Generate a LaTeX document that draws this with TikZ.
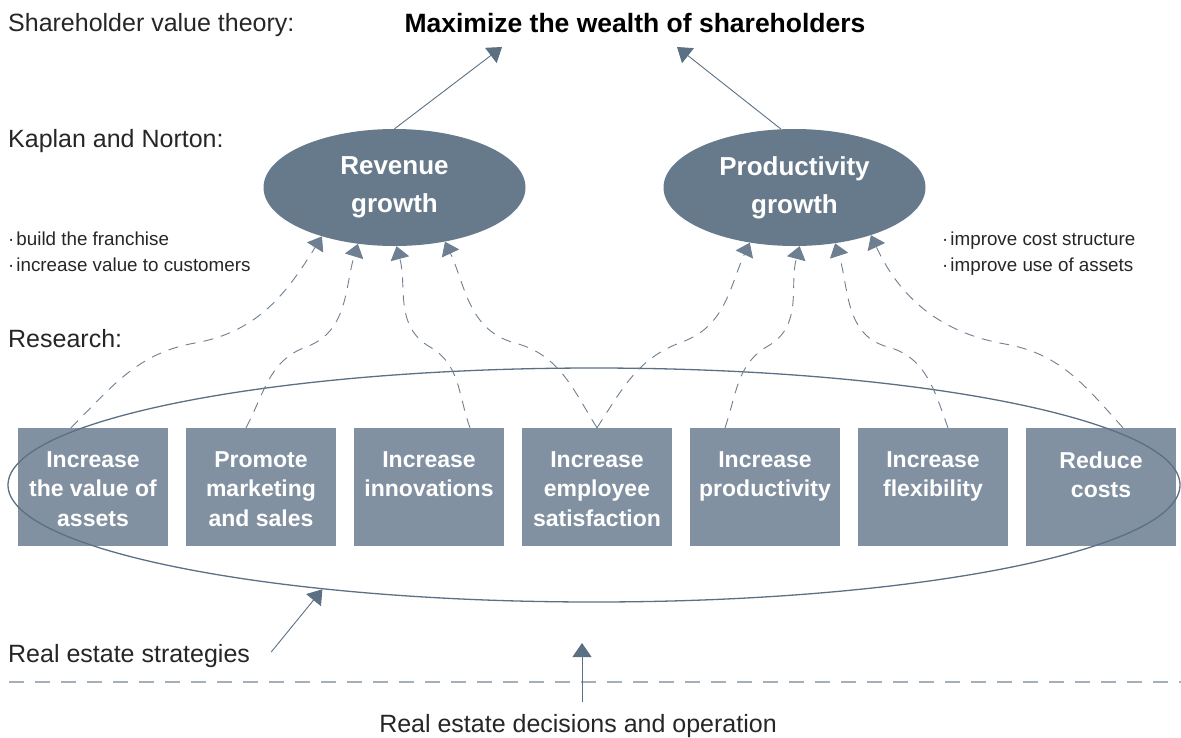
\documentclass[tikz,border=0pt]{standalone}
\usepackage{fontspec}
\setmainfont{Liberation Sans}
\usetikzlibrary{arrows.meta,shapes.geometric}
\definecolor{ellfill}{HTML}{677A8C}
\definecolor{boxfill}{HTML}{8191A1}
\definecolor{linec}{HTML}{5C7084}
\definecolor{dashc}{HTML}{6D7F90}
\definecolor{sepc}{HTML}{A3AFBA}
\definecolor{txt}{HTML}{262626}
\newcommand\boxtext[1]{\parbox[c][71pt][t]{150pt}{\centering\bfseries\fontsize{23}{29.5}\selectfont #1}}
\begin{document}
\begin{tikzpicture}[x=1pt,y=1pt,
  lbl/.style={inner sep=0, anchor=base west, text=txt, font=\fontsize{25}{30}\selectfont},
  bul/.style={inner sep=0, anchor=base west, text=txt, font=\fontsize{18.8}{26}\selectfont},
  goal/.style={ellipse, fill=ellfill, inner sep=0, minimum width=262pt, minimum height=117pt, text=white, align=center, font=\bfseries\fontsize{26}{38}\selectfont},
  stratbox/.style={rectangle, fill=boxfill, inner sep=0, minimum width=150pt, minimum height=118pt, text=white},
  dashedarrow/.style={draw=dashc, line width=0.9pt, dash pattern=on 10pt off 8pt, -{Triangle[length=13pt,width=19pt]}},
  solidarrow/.style={draw=linec, line width=0.9pt, -{Triangle[length=14pt,width=19pt]}},
]
\useasboundingbox (0,0) rectangle (1181,-737);

% left labels
\node[lbl] (svt) at (8,-31) {Shareholder value theory:};
\node[lbl] (kn) at (8,-147) {Kaplan and Norton:};
\node[lbl] (rs) at (8,-347) {Research:};
\node[bul] (bl1) at (8,-245) {·\hspace{2pt}build the franchise};
\node[bul] (bl2) at (8,-271) {·\hspace{2pt}increase value to customers};
\node[bul] (br1) at (942,-245) {·\hspace{2pt}improve cost structure};
\node[bul] (br2) at (942,-271) {·\hspace{2pt}improve use of assets};

% title
\node[inner sep=0, anchor=base, text=black, font=\bfseries\fontsize{26.5}{30}\selectfont] (title) at (635,-32) {Maximize the wealth of shareholders};
\coordinate (t1) at (502,-47);
\coordinate (t2) at (677,-47);

% goals
\node[goal] (rev) at (394.5,-187.5) {Revenue\\growth};
\node[goal] (prod) at (794.5,-187.5) {Productivity\\growth};
\draw[solidarrow] (rev.north) -- (t1);
\draw[solidarrow] (prod.103) -- (t2);

% strategy boxes
\node[stratbox] (b1) at (93,-487) {\boxtext{Increase\\the value of\\assets}};
\node[stratbox] (b2) at (261,-487) {\boxtext{Promote\\marketing\\and sales}};
\node[stratbox] (b3) at (429,-487) {\boxtext{Increase\\innovations}};
\node[stratbox] (b4) at (597,-487) {\boxtext{Increase\\employee\\satisfaction}};
\node[stratbox] (b5) at (765,-487) {\boxtext{Increase\\productivity}};
\node[stratbox] (b6) at (933,-487) {\boxtext{Increase\\flexibility}};
\node[stratbox] (b7) at (1101,-487) {\boxtext{Reduce\\costs}};

% research ellipse
\node[ellipse, draw=linec, line width=1.3pt, inner sep=0, minimum width=1172pt, minimum height=234pt] (res) at (594,-485) {};

% dashed links
\draw[dashedarrow] ([xshift=-22pt]b1.north) to[out=45,in=190] (195,-343) to[out=10,in=238] (rev.214);
\draw[dashedarrow] ([xshift=-15pt]b2.north) to[out=62,in=200] (306,-347) to[out=20,in=253] (rev.237);
\draw[dashedarrow] ([xshift=41pt]b3.north) to[out=110,in=330] (430,-347) to[out=150,in=285] (rev.272);
\draw[dashedarrow] (b4.north) to[out=122,in=345] (515,-343) to[out=165,in=295] (rev.313);
\draw[dashedarrow] (b4.north) to[out=57,in=200] (682,-342) to[out=20,in=245] (prod.231);
\draw[dashedarrow] ([xshift=-40pt]b5.north) to[out=71,in=210] (768,-346) to[out=30,in=255] (prod.275);
\draw[dashedarrow] ([xshift=15pt]b6.north) to[out=110,in=345] (888,-347) to[out=165,in=288] (prod.306);
\draw[dashedarrow] ([xshift=22pt]b7.north) to[out=132,in=350] (1005,-344) to[out=170,in=295] (prod.328);

% bottom
\node[lbl] (strat) at (8,-662) {Real estate strategies};
\draw[solidarrow] ([shift={(21pt,3.5pt)}]strat.east) -- (res.201);
\draw[sepc, line width=1.6pt, dash pattern=on 15pt off 11pt] (9,-682) -- (1181,-682);
\node[lbl, anchor=base] (ops) at (578,-732) {Real estate decisions and operation};
\coordinate (t3) at (582,-643);
\draw[solidarrow] ([shift={(4pt,12pt)}]ops.north) -- (t3);
\end{tikzpicture}
\end{document}
